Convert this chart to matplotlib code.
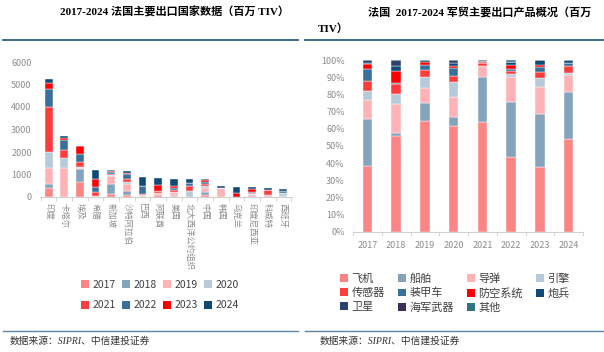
import matplotlib.pyplot as plt
import numpy as np
from matplotlib.patches import Patch
from matplotlib.lines import Line2D

plt.rcParams["font.family"] = ["Noto Sans CJK SC", "DejaVu Sans"]

W, H = 604, 352

# ---- left chart data (百万 TIV) ----
countries = ["印度", "卡塔尔", "埃及", "希腊", "新加坡", "沙特阿拉伯", "巴西", "阿联酋",
             "美国", "北大西洋公约组织", "中国", "韩国", "乌克兰", "印度尼西亚", "科威特", "西班牙"]
years = ["2017", "2018", "2019", "2020", "2021", "2022", "2023", "2024"]
v2017 = [400, 0, 670, 30, 140, 80, 30, 100, 50, 0, 70, 0, 10, 40, 0, 0]
v2018 = [200, 0, 570, 0, 430, 170, 20, 0, 30, 0, 150, 0, 0, 30, 20, 60]
v2019 = [700, 1300, 60, 0, 380, 350, 30, 100, 150, 0, 170, 410, 0, 50, 60, 0]
v2020 = [700, 450, 30, 0, 50, 80, 20, 0, 0, 270, 120, 0, 0, 0, 30, 100]
v2021 = [1980, 330, 230, 200, 30, 140, 30, 50, 100, 200, 80, 0, 0, 60, 200, 40]
v2022 = [810, 450, 340, 220, 90, 190, 340, 0, 80, 150, 60, 10, 0, 60, 0, 60]
v2023 = [270, 100, 350, 330, 50, 70, 30, 300, 60, 0, 100, 0, 190, 100, 0, 0]
v2024 = [200, 80, 0, 420, 20, 80, 400, 300, 330, 180, 60, 60, 230, 100, 80, 80]
year_values = [v2017, v2018, v2019, v2020, v2021, v2022, v2023, v2024]
year_colors = ["#fb8585", "#84a4bd", "#ffb3b6", "#b7cad9", "#ff3c3c", "#3a6f9b", "#ff0000", "#0e4a78"]

# ---- right chart data (share, %) ----
prod_years = ["2017", "2018", "2019", "2020", "2021", "2022", "2023", "2024"]
products = ["飞机", "船舶", "导弹", "引擎", "传感器", "装甲车", "防空系统", "炮兵", "卫星", "海军武器", "其他"]
p_aircraft = [38.0, 56.0, 64.5, 61.7, 64.1, 43.3, 37.9, 53.8]
p_ships = [27.6, 1.7, 10.3, 5.1, 26.2, 32.0, 30.4, 27.8]
p_missiles = [10.9, 16.5, 8.7, 11.6, 6.2, 14.6, 16.2, 9.7]
p_engines = [5.4, 6.0, 6.8, 8.8, 0.0, 1.9, 4.8, 0.9]
p_sensors = [5.9, 5.6, 3.9, 3.5, 2.0, 2.0, 3.9, 4.5]
p_armour = [7.0, 0.8, 2.9, 4.8, 0.0, 1.0, 2.9, 1.4]
p_airdef = [2.7, 7.2, 2.0, 1.2, 0.6, 2.3, 1.0, 0.0]
p_artillery = [0.8, 2.7, 0.9, 1.4, 0.4, 1.9, 2.9, 1.9]
p_satellites = [1.7, 3.5, 0.0, 1.9, 0.0, 0.0, 0.0, 0.0]
p_naval = [0.0, 0.0, 0.0, 0.0, 0.5, 0.0, 0.0, 0.0]
p_other = [0.0, 0.0, 0.0, 0.0, 0.0, 1.0, 0.0, 0.0]
product_values = [p_aircraft, p_ships, p_missiles, p_engines, p_sensors, p_armour,
                  p_airdef, p_artillery, p_satellites, p_naval, p_other]
product_colors = ["#fb8585", "#84a4bd", "#ffb3b6", "#b7cad9", "#ff3c3c", "#3a6f9b",
                  "#ff0000", "#0e4a78", "#2a4170", "#3e2d55", "#2f7585"]

GRAY = "#8c8c8c"
TITLE_FONT = ["Liberation Serif", "Noto Sans CJK SC"]


def box(x0, y0, x1, y1):
    """pixel box (top-left origin) -> figure fraction rect"""
    return [x0 / W, 1 - y1 / H, (x1 - x0) / W, (y1 - y0) / H]


def row_major(items, ncol):
    """reorder so a column-filled legend reads row by row"""
    nrow = -(-len(items) // ncol)
    rows = [items[i * ncol:(i + 1) * ncol] for i in range(nrow)]
    out = []
    for c in range(ncol):
        for r in rows:
            if c < len(r):
                out.append(r[c])
    return out


fig = plt.figure(figsize=(W / 100, H / 100), dpi=100)

# titles and rules
fig.text(175 / W, 1 - 12 / H, "2017-2024 法国主要出口国家数据（百万 TIV）", ha="center", va="center",
         fontsize=8, fontweight="bold", family=TITLE_FONT)
fig.text(368 / W, 1 - 12 / H, "法国  2017-2024 军贸主要出口产品概况（百万", ha="left", va="center",
         fontsize=8, fontweight="bold", family=TITLE_FONT)
fig.text(318 / W, 1 - 29 / H, "TIV）", ha="left", va="center",
         fontsize=8, fontweight="bold", family=TITLE_FONT)
for x0, x1 in [(3, 298), (305, 604)]:
    fig.add_artist(Line2D([x0 / W, x1 / W], [1 - 40 / H] * 2, color="#2f5f80", lw=1.3))
    fig.add_artist(Line2D([x0 / W, x1 / W], [1 - 331 / H] * 2, color="#5f85a6", lw=1.0))
fig.text(10 / W, 1 - 341 / H, "数据来源：SIPRI、中信建投证券", ha="left", va="center",
         fontsize=7, style="italic", color="#333333", family=TITLE_FONT)
fig.text(320 / W, 1 - 341 / H, "数据来源：SIPRI、中信建投证券", ha="left", va="center",
         fontsize=7, style="italic", color="#333333", family=TITLE_FONT)

# ---- left chart ----
ax1 = fig.add_axes(box(40, 62, 292, 197))
x = np.arange(len(countries))
bottom = np.zeros(len(countries))
for label, vals, color in zip(years, year_values, year_colors):
    vals = np.array(vals, dtype=float)
    ax1.bar(x, vals, 0.5, bottom=bottom, color=color, edgecolor="white", linewidth=0.3, label=label)
    bottom += vals
ax1.set_ylim(0, 6000)
ax1.set_xlim(-0.55, len(countries) - 0.45)
ax1.set_yticks(range(0, 6001, 1000))
ax1.set_xticks(x)
ax1.set_xticklabels(countries, rotation=-90, fontsize=6, color=GRAY, va="top", ha="center")
ax1.set_xticks(np.arange(-0.5, len(countries), 1), minor=True)
ax1.tick_params(axis="x", which="major", length=0, pad=4)
ax1.tick_params(axis="x", which="minor", length=3, color="#d0d0d0")
ax1.tick_params(axis="y", length=0, labelsize=6.5, labelcolor=GRAY, pad=6)
for s in ["top", "right", "left"]:
    ax1.spines[s].set_visible(False)
ax1.spines["bottom"].set_color("#d0d0d0")
handles1 = row_major([Patch(facecolor=c, label=l) for l, c in zip(years, year_colors)], 4)
fig.legend(handles=handles1, ncol=4, loc="center", bbox_to_anchor=(160 / W, 1 - 295 / H),
           frameon=False, fontsize=7.5, handlelength=0.8, handleheight=0.8, handletextpad=0.3,
           columnspacing=0.6, labelspacing=1.0, labelcolor="#404040")

# ---- right chart ----
ax2 = fig.add_axes(box(353, 60, 583, 231.7))
xp = np.arange(len(prod_years))
bottom = np.zeros(len(prod_years))
for label, vals, color in zip(products, product_values, product_colors):
    vals = np.array(vals, dtype=float) / 100
    ax2.bar(xp, vals, 0.33, bottom=bottom, color=color, edgecolor="white", linewidth=0.3, label=label)
    bottom += vals
ax2.set_ylim(0, 1)
ax2.set_xlim(-0.5, len(prod_years) - 0.5)
ax2.set_yticks(np.arange(0, 1.01, 0.1))
ax2.set_yticklabels([f"{int(round(v * 100))}%" for v in np.arange(0, 1.01, 0.1)])
ax2.set_xticks(xp)
ax2.set_xticklabels(prod_years)
ax2.set_xticks(np.arange(-0.5, len(prod_years), 1), minor=True)
ax2.tick_params(axis="x", which="major", length=0, labelsize=6.5, labelcolor=GRAY, pad=7)
ax2.tick_params(axis="x", which="minor", length=3, color="#d0d0d0")
ax2.tick_params(axis="y", length=0, labelsize=6.5, labelcolor=GRAY, pad=6)
for s in ["top", "right", "left"]:
    ax2.spines[s].set_visible(False)
ax2.spines["bottom"].set_color("#d0d0d0")
handles2 = row_major([Patch(facecolor=c, label=l) for l, c in zip(products, product_colors)], 4)
fig.legend(handles=handles2, ncol=4, loc="center", bbox_to_anchor=(455 / W, 1 - 293 / H),
           frameon=False, fontsize=8, handlelength=0.7, handleheight=0.7, handletextpad=0.3,
           columnspacing=1.2, labelspacing=0.35, labelcolor="#404040")

fig.savefig("out.png", dpi=100)
